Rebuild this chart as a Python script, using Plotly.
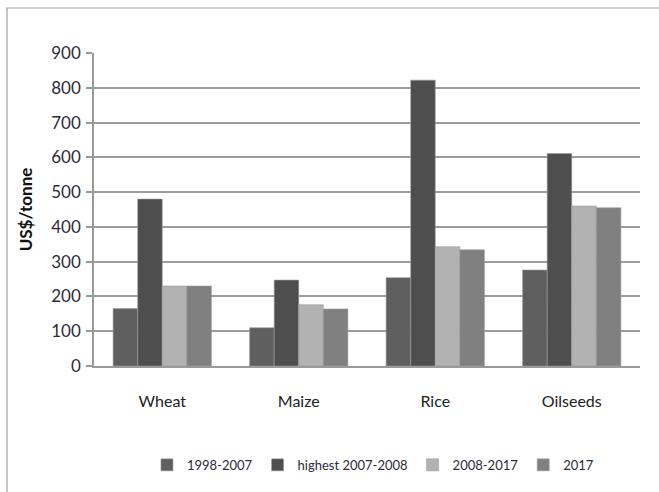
import plotly.graph_objects as go

crops = ["Wheat", "Maize", "Rice", "Oilseeds"]
series_names = ["1998-2007", "highest 2007-2008", "2008-2017", "2017"]
avg_1998_2007 = [165, 110, 254, 276]
highest_2007_2008 = [480, 247, 822, 611]
avg_2008_2017 = [230, 176, 343, 460]
price_2017 = [230, 164, 334, 455]
y_ticks = [0, 100, 200, 300, 400, 500, 600, 700, 800, 900]

colors = ["#5f5f5f", "#4e4e4e", "#b2b2b2", "#808080"]
values = [avg_1998_2007, highest_2007_2008, avg_2008_2017, price_2017]

FONT = "Lato, sans-serif"
TEXT = "#2b2b3a"

fig = go.Figure()
for name, vals, col in zip(series_names, values, colors):
    fig.add_trace(go.Bar(
        x=crops, y=vals, name=name,
        marker=dict(color=col, line=dict(width=0.6, color="#9a9a9a")),
    ))

W, H = 659, 492
ml, mr, mt, mb = 94, 19, 53, 126
pw, ph = W - ml - mr, H - mt - mb

fig.update_layout(
    width=W, height=H,
    margin=dict(l=ml, r=mr, t=mt, b=mb),
    paper_bgcolor="white", plot_bgcolor="white",
    barmode="group", bargap=0.28, bargroupgap=0,
    font=dict(family=FONT, size=14, color=TEXT),
    showlegend=True,
    legend=dict(
        orientation="h", x=0.097, y=-0.268, xanchor="left", yanchor="top",
        font=dict(family=FONT, size=13, color=TEXT),
        itemwidth=30, traceorder="normal",
    ),
    xaxis=dict(
        showgrid=False, showline=True, linecolor="#9a9a9a", linewidth=1.5,
        ticks="", tickfont=dict(family=FONT, size=16, color="#222"),
        ticklabelstandoff=20,
    ),
    yaxis=dict(
        range=[0, 900], tickvals=y_ticks, showgrid=True, gridcolor="#9c9c9c",
        gridwidth=1.5, showline=True, linecolor="#9a9a9a", linewidth=1.5,
        ticks="outside", ticklen=6, tickcolor="#9a9a9a", tickwidth=1.5,
        ticklabelstandoff=2,
        tickfont=dict(family=FONT, size=17, color=TEXT), zeroline=False,
        title=dict(text="<b>US$/tonne</b>", font=dict(family=FONT, size=17, color="#111"),
                   standoff=14),
    ),
)

# Outer frame around the chart
fig.add_shape(
    type="rect", xref="paper", yref="paper",
    x0=(7 - ml) / pw, x1=(W + 20 - ml) / pw,
    y0=-(H + 20 - mt - ph) / ph, y1=1 + (mt - 8) / ph,
    line=dict(color="#a0a0a0", width=1.2), fillcolor="rgba(0,0,0,0)", layer="below",
)

fig.write_html("out.html")
